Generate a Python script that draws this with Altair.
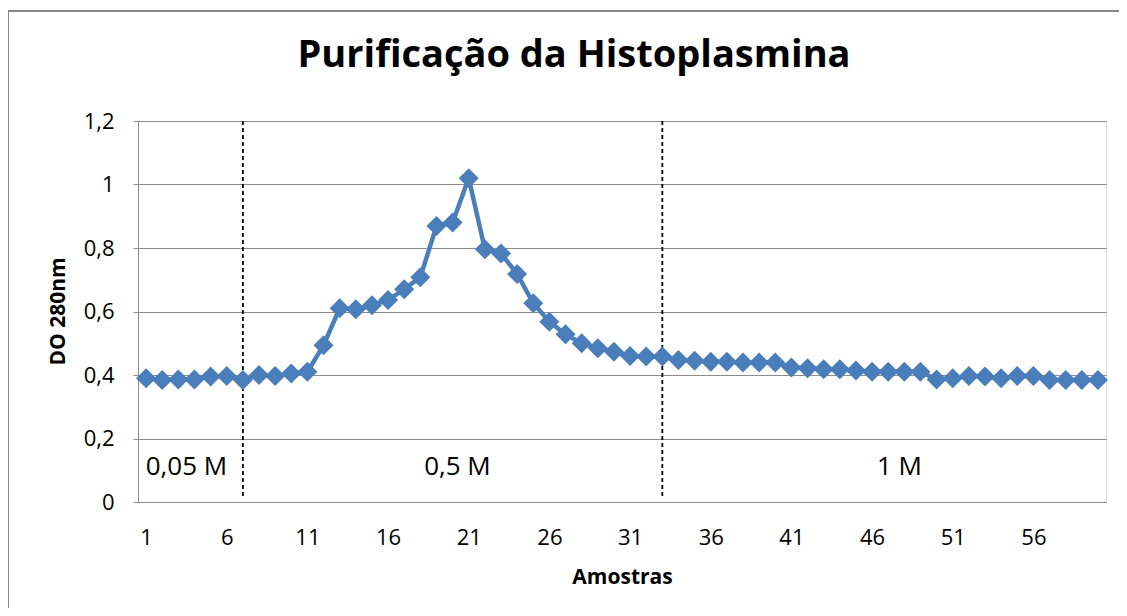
import altair as alt
import pandas as pd

samples = list(range(1, 61))
do280 = [0.39, 0.384, 0.386, 0.386, 0.395, 0.397, 0.384, 0.40, 0.397, 0.405,
         0.41, 0.494, 0.61, 0.607, 0.62, 0.636, 0.67, 0.708, 0.869, 0.88,
         1.02, 0.796, 0.783, 0.718, 0.626, 0.568, 0.528, 0.50, 0.484, 0.473,
         0.46, 0.458, 0.458, 0.447, 0.445, 0.442, 0.442, 0.439, 0.439, 0.439,
         0.424, 0.421, 0.418, 0.418, 0.414, 0.41, 0.41, 0.41, 0.41, 0.386,
         0.39, 0.397, 0.395, 0.39, 0.397, 0.397, 0.384, 0.384, 0.384, 0.384]

divider_x = [7, 33]
region_labels = ["0,05 M", "0,5 M", "1 M"]
region_x = [3.5, 20.3, 47.7]
region_y = [0.11, 0.11, 0.11]

x_ticks = [1, 6, 11, 16, 21, 26, 31, 36, 41, 46, 51, 56]
y_ticks = [0, 0.2, 0.4, 0.6, 0.8, 1, 1.2]
title_text = "Purificação da Histoplasmina"

df = pd.DataFrame({"Amostra": samples, "DO": do280})
div_df = pd.DataFrame({"x": divider_x})
lab_df = pd.DataFrame({"label": region_labels, "x": region_x, "y": region_y})
one = pd.DataFrame({"t": [title_text]})

FONT = "Open Sans"
BLUE = "#4a7ebb"
GRID = "#8c8c8c"

xscale = alt.Scale(domain=[0.5, 60.5], nice=False, zero=False)
yscale = alt.Scale(domain=[0, 1.2], nice=False)

xaxis = alt.Axis(values=x_ticks, ticks=False, grid=False, domainColor=GRID,
                 domainWidth=1, labelFontSize=22, labelFont=FONT, labelColor="#000",
                 labelPadding=35, labelBaseline="middle", labelFlush=False,
                 title="Amostras", titleFont=FONT, titleFontSize=21,
                 titleFontWeight="bold", titleColor="#000", titleY=75,
                 titleBaseline="middle")
yaxis = alt.Axis(values=y_ticks, labelExpr="replace(toString(datum.value), '.', ',')",
                 tickSize=5, tickColor=GRID, gridColor=GRID, gridWidth=1,
                 domainColor=GRID, labelFontSize=22, labelFont=FONT, labelColor="#000",
                 labelPadding=19, title="DO 280nm", titleFont=FONT, titleFontSize=21,
                 titleFontWeight="bold", titleColor="#000", titleX=-80, titleY=190,
                 titleAngle=270, titleAlign="center", titleBaseline="middle")

line = alt.Chart(df).mark_line(color=BLUE, strokeWidth=4.5).encode(
    x=alt.X("Amostra:Q", scale=xscale, axis=xaxis),
    y=alt.Y("DO:Q", scale=yscale, axis=yaxis),
)
points = alt.Chart(df).mark_point(shape="diamond", size=400, filled=True,
                                  color=BLUE, opacity=1).encode(
    x=alt.X("Amostra:Q", scale=xscale),
    y=alt.Y("DO:Q", scale=yscale),
)
dividers = alt.Chart(div_df).mark_rule(color="#000", strokeWidth=1.8,
                                       strokeDash=[4, 3]).encode(
    x=alt.X("x:Q", scale=xscale),
    y=alt.value(0),
    y2=alt.value(375),
)
labels = alt.Chart(lab_df).mark_text(font=FONT, fontSize=26, color="#000",
                                     align="center", baseline="middle").encode(
    x=alt.X("x:Q", scale=xscale),
    y=alt.Y("y:Q", scale=yscale),
    text="label:N",
)
title = alt.Chart(one).mark_text(font=FONT, fontSize=38, fontWeight="bold", color="#000",
                                 align="center", baseline="alphabetic").encode(
    x=alt.value(436), y=alt.value(-54), text="t:N")
border_top = alt.Chart(one).mark_rule(color="#888888", strokeWidth=2).encode(
    x=alt.value(-130), x2=alt.value(1000), y=alt.value(-110))
border_left = alt.Chart(one).mark_rule(color="#888888", strokeWidth=2).encode(
    x=alt.value(-130), y=alt.value(-110), y2=alt.value(500))

chart = alt.layer(border_top, border_left, dividers, line, points, labels, title).properties(
    width=968,
    height=381,
    autosize=alt.AutoSizeParams(type="none"),
    padding={"left": 130, "top": 113, "right": 13, "bottom": 106},
).configure_view(stroke=None).configure(background="white")

chart.save("out.html", embed_options={"renderer": "svg", "actions": False})
